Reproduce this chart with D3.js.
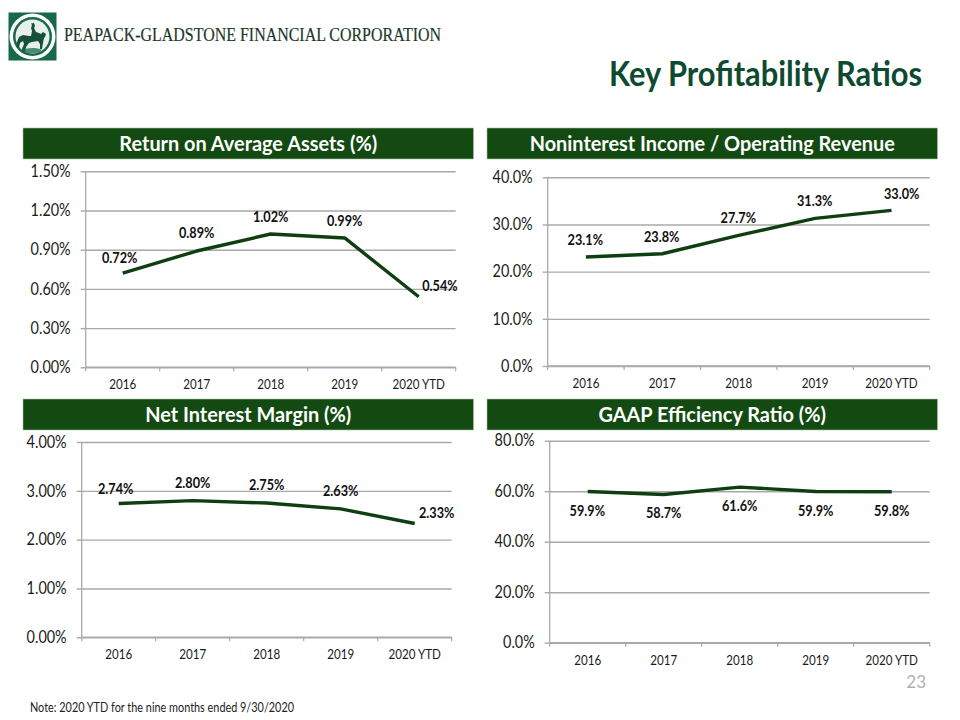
<!DOCTYPE html>
<html><head><meta charset="utf-8">
<script src="https://cdn.jsdelivr.net/npm/d3@7/dist/d3.min.js"></script>
<style>html,body{margin:0;padding:0;background:#fff}svg{display:block}text{font-family:Lato,"Open Sans",sans-serif}</style>
</head><body><svg id="c" width="960" height="720"></svg>
<script>
const categories = ["2016","2017","2018","2019","2020 YTD"];
const roaaValues = [0.72,0.89,1.02,0.99,0.54];
const nonintValues = [23.1,23.8,27.7,31.3,33.0];
const nimValues = [2.74,2.80,2.75,2.63,2.33];
const effValues = [59.9,58.7,61.6,59.9,59.8];
const roaaTicks = [0,0.3,0.6,0.9,1.2,1.5];
const nonintTicks = [0,10,20,30,40];
const nimTicks = [0,1,2,3,4];
const effTicks = [0,20,40,60,80];

const GREEN="#134a12", LINE="#0f3f10", GRID="#a9a9a9", K=0.875;
const panels=[
 {title:"Return on Average Assets (%)",vals:roaaValues,ticks:roaaTicks,dec:2,box:[85.7,455.7,171.3,367.3],head:[23,473.5,128],xlab:12,
  dx:[-3,0,0,0,21.3],dy:[-15.5,-17.7,-16.9,-17.4,-11]},
 {title:"Noninterest Income / Operating Revenue",vals:nonintValues,ticks:nonintTicks,dec:1,box:[547.7,929.7,177.3,366],head:[487,937.5,128],xlab:12,
  dx:[-.6,-.6,-.4,-.4,10.2],dy:[-17,-17,-17.6,-17.3,-16]},
 {title:"Net Interest Margin (%)",vals:nimValues,ticks:nimTicks,dec:2,box:[81.7,451.7,442,637.3],head:[23,473.5,399],xlab:12.5,
  dx:[-3,0,0,0,22],dy:[-14.8,-17.3,-17.6,-17.6,-10.8]},
 {title:"GAAP Efficiency Ratio (%)",vals:effValues,ticks:effTicks,dec:1,box:[549.7,929.7,440.7,642.7],head:[487,937.5,399],xlab:12.5,
  dx:[-.4,0,0,0,0],dy:[19.2,18.8,19.1,19.2,19]}
];
const svg=d3.select("#c");
function condense(sel,k){sel.each(function(){const l=this.getComputedTextLength();this.setAttribute("textLength",(l*k).toFixed(1));this.setAttribute("lengthAdjust","spacingAndGlyphs");});}

// logo
const logo=svg.append("g");
logo.append("rect").attr("x",8.5).attr("y",12.5).attr("width",48).attr("height",48).attr("fill","#17694a");
logo.append("circle").attr("cx",32.5).attr("cy",36.5).attr("r",23).attr("fill","#fff");
logo.append("circle").attr("cx",32.5).attr("cy",36.5).attr("r",19.5).attr("fill","#17694a");
logo.append("circle").attr("cx",32.5).attr("cy",36.5).attr("r",17).attr("fill","#e8f0ea");
logo.append("path").attr("fill","#14503a").attr("d","M31 23.5l3-.5 1 3-1 2 2 4 3 1 2 1 2-2 3 2-1 3-1 1-1 5-1 6-2 0 0-5-2-3-6 1-3 1-3 4-1 5-2 0-1-3 2-5-1-3-3 2-1 5-2-1 0-5 2-5 4-2 6 1 2 0 1-5-1-3 1-3z");
logo.append("path").attr("fill","#17694a").attr("opacity",.75).attr("d","M22 50c5-2 14-3 20 0l-3 2.5c-5 1-10 1-14 0z");
svg.append("text").attr("x",64).attr("y",41).style("font-family","'Liberation Serif',serif").style("font-size","19px").attr("fill","#22382a").attr("stroke","#22382a").attr("stroke-width",.2).text("PEAPACK-GLADSTONE FINANCIAL CORPORATION").attr("textLength",377).attr("lengthAdjust","spacingAndGlyphs");

svg.append("text").attr("x",922).attr("y",86).attr("text-anchor","end").style("font-size","33.5px").style("font-weight",700).attr("fill","#0d4a30").text("Key Profitability Ratios").attr("textLength",313).attr("lengthAdjust","spacingAndGlyphs");

panels.forEach(p=>{
  const [x0,x1,y0,y1]=p.box, [hx0,hx1,hy]=p.head;
  svg.append("rect").attr("x",hx0).attr("y",hy).attr("width",hx1-hx0).attr("height",31).attr("fill",GREEN).attr("stroke","#a9c4a5").attr("stroke-width",.6);
  const ht=svg.append("text").attr("x",(hx0+hx1)/2).attr("y",hy+23).attr("text-anchor","middle").style("font-size","21.5px").style("font-weight",700).attr("fill","#fff").text(p.title);
  condense(ht,.925);
  const x=d3.scaleBand().domain(categories).range([x0,x1]);
  const y=d3.scaleLinear().domain([p.ticks[0],p.ticks[p.ticks.length-1]]).range([y1,y0]);
  const g=svg.append("g");
  const ya=d3.axisLeft(y).tickValues(p.ticks).tickSize(5).tickPadding(10).tickFormat(d=>d.toFixed(p.dec)+"%");
  const ga=g.append("g").attr("transform",`translate(${x0},0)`).call(ya);
  ga.select(".domain").attr("stroke",GRID).attr("stroke-width",1.3).attr("d",`M0,${y0}V${y1}`);
  ga.selectAll(".tick line").attr("stroke",GRID).attr("stroke-width",1.4);
  ga.selectAll(".tick").append("line").attr("x1",0).attr("x2",x1-x0).attr("stroke",GRID).attr("stroke-width",1.4);
  const yt=ga.selectAll("text").style("font-size","16.5px").attr("fill","#1a1a1a").style("font-family","Lato,sans-serif");
  condense(yt,K);
  const xa=d3.axisBottom(x).tickSize(0).tickPadding(p.xlab);
  const gx=g.append("g").attr("transform",`translate(0,${y1})`).call(xa);
  gx.select(".domain").attr("stroke",GRID).attr("stroke-width",1.4).attr("d",`M${x0},0H${x1}`);
  gx.selectAll("text").style("font-size","13.5px").attr("fill","#1a1a1a").style("font-family","Lato,sans-serif");
  condense(gx.selectAll("text"),.86);
  const edges=[...categories.map(c=>x(c)),x1];
  g.append("g").selectAll("line").data(edges).join("line").attr("x1",d=>d).attr("x2",d=>d).attr("y1",y1).attr("y2",y1+4).attr("stroke",GRID).attr("stroke-width",1.2);
  const line=d3.line().x((d,i)=>x(categories[i])+x.bandwidth()/2).y(d=>y(d));
  g.append("path").attr("d",line(p.vals)).attr("fill","none").attr("stroke",LINE).attr("stroke-width",3.4).attr("stroke-linejoin","round");
  const lb=g.append("g").selectAll("text").data(p.vals).join("text")
    .attr("x",(d,i)=>x(categories[i])+x.bandwidth()/2+p.dx[i])
    .attr("y",(d,i)=>y(d)+p.dy[i]+5)
    .attr("text-anchor","middle").style("font-size","14.5px").style("font-weight",700).attr("fill","#111")
    .text(d=>d.toFixed(p.dec)+"%");
  condense(lb,K);
});
svg.append("text").attr("x",30).attr("y",712).style("font-size","13px").attr("fill","#222").text("Note: 2020 YTD for the nine months ended 9/30/2020").attr("textLength",264).attr("lengthAdjust","spacingAndGlyphs");
svg.append("text").attr("x",926).attr("y",688).attr("text-anchor","end").style("font-size","17px").attr("fill","#b0b0b0").style("font-family","Lato,sans-serif").text("23");
</script></body></html>
